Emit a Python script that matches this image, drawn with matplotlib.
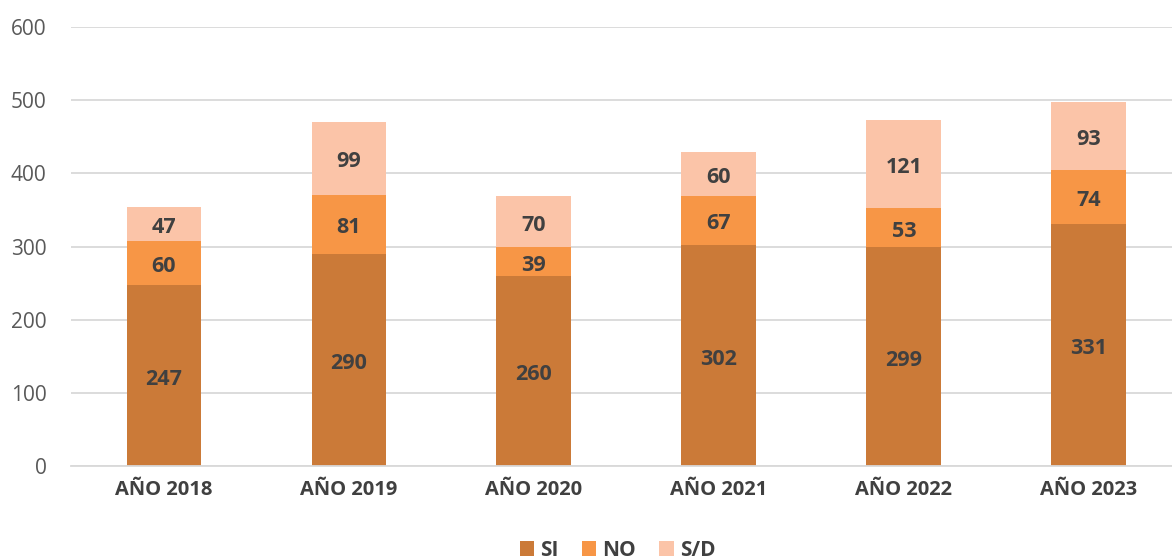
import numpy as np
import matplotlib.pyplot as plt

years = ["AÑO 2018", "AÑO 2019", "AÑO 2020", "AÑO 2021", "AÑO 2022", "AÑO 2023"]
si = [247, 290, 260, 302, 299, 331]
no = [60, 81, 39, 67, 53, 74]
sd = [47, 99, 70, 60, 121, 93]

colors = {"SI": "#CB7A38", "NO": "#F79646", "S/D": "#FBC4A8"}
text_color = "#404040"

plt.rcParams['font.family'] = ['Open Sans', 'DejaVu Sans']

fig = plt.figure(figsize=(11.72, 5.59), dpi=100)
ax = fig.add_axes([0.061, 0.166, 0.947, 0.786])

x = np.arange(len(years))
width = 0.405
bottom = np.zeros(len(years))
for name, vals in [("SI", si), ("NO", no), ("S/D", sd)]:
    bars = ax.bar(x, vals, width, bottom=bottom, color=colors[name], label=name, zorder=2)
    for b, v in zip(bars, vals):
        ax.annotate(str(v), (b.get_x() + b.get_width() / 2, b.get_y() + b.get_height() / 2),
                    xytext=(0, -2.5), textcoords='offset points',
                    ha='center', va='center', fontsize=15.5, fontweight='bold', color=text_color)
    bottom += np.array(vals)

ax.set_xlim(-0.5, len(years) - 0.5)
ax.set_ylim(0, 600)
ax.set_yticks(range(0, 601, 100))
ax.set_xticks(x)
ax.set_xticklabels(years, fontsize=14.5, fontweight='bold', color=text_color)
ax.tick_params(axis='y', labelsize=15, colors='#595959', length=0, pad=18)
ax.tick_params(axis='x', length=0, pad=10)
ax.grid(axis='y', color='#D9D9D9', linewidth=1.3, zorder=0)
for s in ['top', 'right', 'left']:
    ax.spines[s].set_visible(False)
ax.spines['bottom'].set_color('#D9D9D9')
ax.spines['bottom'].set_linewidth(1.3)

ax.legend(loc='upper center', bbox_to_anchor=(0.5 - 0.008, -0.125), ncol=3, frameon=False,
          prop={'size': 15, 'weight': 'bold'}, labelcolor=text_color,
          handlelength=0.7, handleheight=0.7, handletextpad=0.3, columnspacing=1.1)

fig.savefig('out.png', dpi=100)
